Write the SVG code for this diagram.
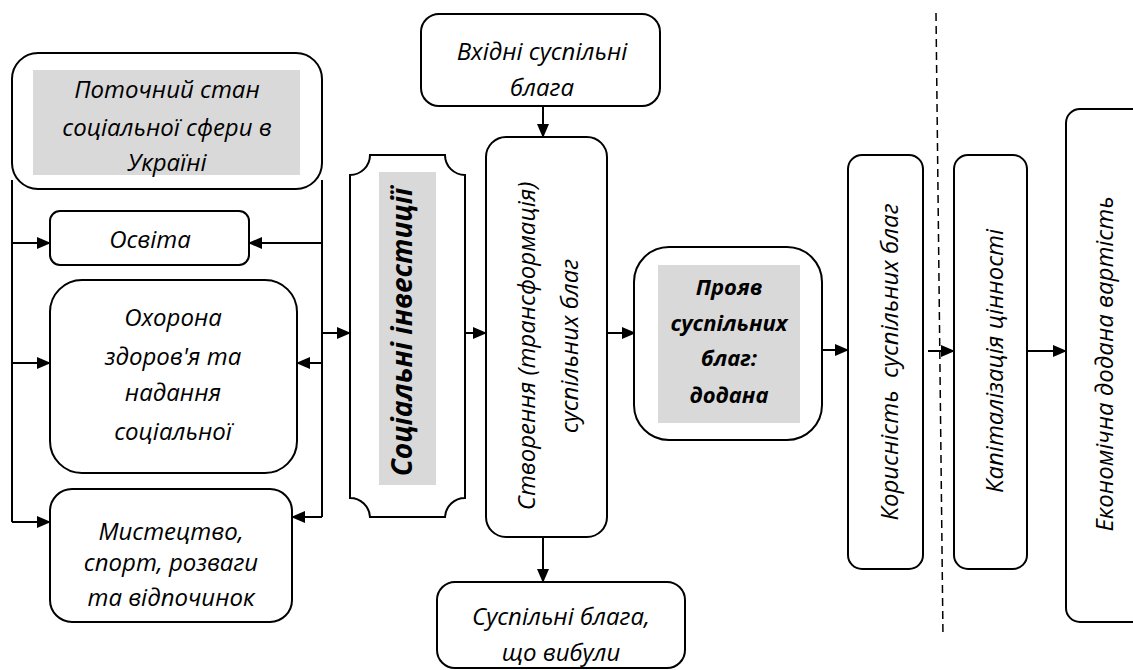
<svg xmlns="http://www.w3.org/2000/svg" width="1133" height="670" viewBox="0 0 1133 670">
<style>
.box{fill:#fff;stroke:#000;stroke-width:2}
.gray{fill:#d9d9d9;stroke:none}
.t{font-family:"Open Sans","Noto Sans","DejaVu Sans",sans-serif;font-style:italic;font-size:24px;fill:#000;text-anchor:middle}
.b{font-weight:bold}
.ln{fill:none;stroke:#000;stroke-width:2}
.dash{fill:none;stroke:#000;stroke-width:1.5;stroke-dasharray:8 5}
</style>
<defs>
<marker id="ar" markerUnits="userSpaceOnUse" markerWidth="14" markerHeight="12" refX="13" refY="6" orient="auto">
<path d="M0,0 L14,6 L0,12 Z" fill="#000"/>
</marker>
</defs>
<g id="connectors">
<path class="ln" d="M12,180 L12,522"/>
<path class="ln" d="M322,180 L322,517"/>
<path class="ln" d="M12,243 L50,243" marker-end="url(#ar)"/>
<path class="ln" d="M12,363 L50,363" marker-end="url(#ar)"/>
<path class="ln" d="M12,522 L50,522" marker-end="url(#ar)"/>
<path class="ln" d="M322,243 L249,243" marker-end="url(#ar)"/>
<path class="ln" d="M322,363 L297,363" marker-end="url(#ar)"/>
<path class="ln" d="M322,517 L292,517" marker-end="url(#ar)"/>
<path class="ln" d="M322,333 L350,333" marker-end="url(#ar)"/>
<path class="ln" d="M458,333 L486,333" marker-end="url(#ar)"/>
<path class="ln" d="M543,106 L543,137" marker-end="url(#ar)"/>
<path class="ln" d="M607,333 L635,333" marker-end="url(#ar)"/>
<path class="ln" d="M543,537 L543,582" marker-end="url(#ar)"/>
<path class="ln" d="M822,350 L848,350" marker-end="url(#ar)"/>
<path class="ln" d="M928,351 L954,351" marker-end="url(#ar)"/>
<path class="ln" d="M1027,351 L1066,351" marker-end="url(#ar)"/>
<path class="dash" d="M936,13 L943,637"/>
</g>
<g id="n-stan">
<rect class="box" x="12" y="53" width="310" height="136" rx="26"/>
<rect class="gray" x="33" y="70" width="267" height="105"/>
<text class="t" x="167" y="98">Поточний стан</text>
<text class="t" x="167" y="136">соціальної сфери в</text>
<text class="t" x="167" y="171">Україні</text>
</g>
<g id="n-osvita">
<rect class="box" x="50" y="211" width="199" height="54" rx="10"/>
<text class="t" x="150" y="248">Освіта</text>
</g>
<g id="n-okhorona">
<rect class="box" x="50" y="280" width="247" height="193" rx="32"/>
<text class="t" x="173" y="326">Охорона</text>
<text class="t" x="173" y="365">здоров'я та</text>
<text class="t" x="173" y="401">надання</text>
<text class="t" x="173" y="440">соціальної</text>
</g>
<g id="n-mystetstvo">
<rect class="box" x="50" y="489" width="242" height="133" rx="22"/>
<text class="t" x="171" y="540">Мистецтво,</text>
<text class="t" x="171" y="571">спорт, розваги</text>
<text class="t" x="171" y="606">та відпочинок</text>
</g>
<g id="n-investytsii">
<path class="box" d="M370,155 L445,155 A20,20 0 0 0 465,175 L465,498 A20,20 0 0 0 445,517 L370,517 A20,20 0 0 0 350,498 L350,175 A20,20 0 0 0 370,155 Z"/>
<rect class="gray" x="379" y="172" width="57" height="313"/>
<text class="t b" style="font-size:28px" transform="translate(412,332) rotate(-90)">Соціальні інвестиції</text>
</g>
<g id="n-vkhidni">
<rect class="box" x="421" y="14" width="239" height="92" rx="18"/>
<text class="t" x="542" y="60">Вхідні суспільні</text>
<text class="t" x="542" y="96">блага</text>
</g>
<g id="n-stvorennia">
<rect class="box" x="486" y="137" width="121" height="400" rx="20"/>
<text class="t" transform="translate(535,346) rotate(-90)">Створення (трансформація)</text>
<text class="t" transform="translate(578,346) rotate(-90)">суспільних благ</text>
</g>
<g id="n-vybuly">
<rect class="box" x="437" y="582" width="248" height="86" rx="18"/>
<text class="t" x="561" y="625">Суспільні блага,</text>
<text class="t" x="561" y="661">що вибули</text>
</g>
<g id="n-proiav">
<rect class="box" x="634" y="247" width="188" height="193" rx="35"/>
<rect class="gray" x="658" y="265" width="142" height="158"/>
<text class="t b" style="font-size:22px" x="729" y="295">Прояв</text>
<text class="t b" style="font-size:22px" x="729" y="331">суспільних</text>
<text class="t b" style="font-size:22px" x="729" y="366">благ:</text>
<text class="t b" style="font-size:22px" x="729" y="403">додана</text>
</g>
<g id="n-korysnist">
<rect class="box" x="848" y="155" width="75" height="414" rx="14"/>
<text class="t" transform="translate(898,362) rotate(-90)" xml:space="preserve">Корисність  суспільних благ</text>
</g>
<g id="n-kapitalizatsiia">
<rect class="box" x="954" y="155" width="73" height="414" rx="14"/>
<text class="t" transform="translate(1003,361) rotate(-90)">Капіталізація цінності</text>
</g>
<g id="n-ekonomichna">
<rect class="box" x="1066" y="109" width="90" height="513" rx="14"/>
<text class="t" transform="translate(1113,364) rotate(-90)">Економічна додана вартість</text>
</g>
</svg>
